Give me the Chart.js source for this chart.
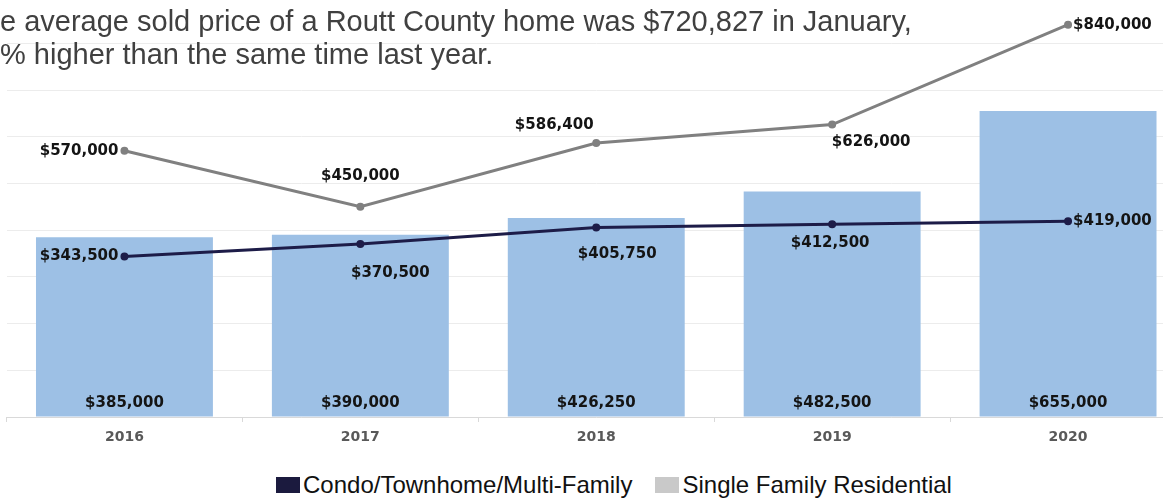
<!DOCTYPE html>
<html>
<head>
<meta charset="utf-8">
<script src="https://cdn.jsdelivr.net/npm/chart.js@4.4.1/dist/chart.umd.min.js"></script>
<style>
  html, body { margin: 0; padding: 0; background: #ffffff; }
  body { width: 1163px; height: 498px; overflow: hidden; position: relative; }
  #title { position: absolute; left: 0; top: 5px; font-family: "Liberation Sans", Arial, sans-serif;
           font-size: 29px; line-height: 33px; color: #404040; white-space: nowrap; z-index: 2; }
  #wrap { position: absolute; left: 0; top: -20px; width: 1200px; height: 477px; }
  #legend { position: absolute; left: 276px; top: 472px; height: 26px; display: flex; align-items: center;
            font-family: "Liberation Sans", Arial, sans-serif; font-size: 24px; color: #111; white-space: nowrap; }
  .item { display: flex; align-items: center; margin-right: 23px; }
  .box { width: 24px; height: 16px; margin-right: 3px; }
</style>
</head>
<body>
<div id="title"><div>e average sold price of a Routt County home was $720,827 in January,</div><div>% higher than the same time last year.</div></div>
<div id="wrap"><canvas id="c"></canvas></div>
<div id="legend"></div>
<script>
// ---- data ----
const categories = ['2016', '2017', '2018', '2019', '2020'];
const overallValues = [385000, 390000, 426250, 482500, 655000];
const condoValues = [343500, 370500, 405750, 412500, 419000];
const singleFamilyValues = [570000, 450000, 586400, 626000, 840000];
const seriesNames = ['Condo/Townhome/Multi-Family', 'Single Family Residential'];

// ---- label placement (style) ----
const condoLabelPos = [['left', -6, 0], ['center', 30, 29], ['center', 21, 27], ['center', -2, 19], ['right', 5, 0]];
const singleLabelPos = [['left', -6, 0], ['center', 0, -31], ['center', -42, -18], ['center', 39, 18], ['right', 5, 0]];

const fmt = v => '$' + v.toLocaleString('en-US');
const LABEL_FONT = 'bold 15px "DejaVu Sans", sans-serif';

const labelPlugin = {
  id: 'valueLabels',
  afterDatasetsDraw(chart) {
    const ctx = chart.ctx;
    ctx.save();
    ctx.font = LABEL_FONT;
    ctx.textBaseline = 'middle';
    ctx.fillStyle = '#141414';
    chart.data.datasets.forEach((ds, di) => {
      const meta = chart.getDatasetMeta(di);
      meta.data.forEach((el, i) => {
        const txt = fmt(ds.data[i]);
        if (ds.type === 'bar') {
          ctx.textAlign = 'center';
          ctx.fillText(txt, el.x, el.base - 13);
        } else {
          const p = ds.labelPos[i];
          ctx.textAlign = p[0] === 'left' ? 'right' : (p[0] === 'right' ? 'left' : 'center');
          ctx.fillText(txt, el.x + p[1], el.y + p[2]);
        }
      });
    });
    ctx.restore();
  }
};

const chart = new Chart(document.getElementById('c'), {
  data: {
    labels: categories,
    datasets: [
      { type: 'line', label: seriesNames[0], data: condoValues, borderColor: '#1d1c48', backgroundColor: '#1d1c48',
        legendColor: '#1b1a3e', borderWidth: 3, pointRadius: 2.5, pointHoverRadius: 2.5, tension: 0, order: 1, labelPos: condoLabelPos },
      { type: 'line', label: seriesNames[1], data: singleFamilyValues, borderColor: '#808080', backgroundColor: '#808080',
        legendColor: '#c9c9c9', borderWidth: 3, pointRadius: 2.5, pointHoverRadius: 2.5, tension: 0, order: 2, labelPos: singleLabelPos },
      { type: 'bar', label: 'All Residential', data: overallValues, backgroundColor: '#9dc0e5',
        barPercentage: 0.75, categoryPercentage: 1, order: 3, hideInLegend: true }
    ]
  },
  options: {
    responsive: true,
    maintainAspectRatio: false,
    animation: false,
    events: [],
    layout: { autoPadding: false, padding: { left: 6.5, right: 14, top: 16.6, bottom: 0 } },
    plugins: { legend: { display: false }, tooltip: { enabled: false } },
    scales: {
      x: {
        offset: true,
        grid: { offset: true, drawOnChartArea: false, drawTicks: true, tickLength: 5, color: '#d9d9d9' },
        border: { color: '#d9d9d9', width: 1 },
        ticks: { padding: 7, color: '#595959', font: { family: '"DejaVu Sans", sans-serif', size: 14, weight: 'bold' } },
        afterFit: s => { s.height = 40; }
      },
      y: {
        min: 0, max: 900000,
        ticks: { display: false, stepSize: 100000 },
        grid: { color: '#ececec', drawTicks: false },
        border: { display: false },
        afterFit: s => { s.width = 0; }
      }
    }
  },
  plugins: [labelPlugin]
});

// legend built from the chart's datasets
const legend = document.getElementById('legend');
chart.data.datasets.filter(d => !d.hideInLegend).forEach(d => {
  const it = document.createElement('div'); it.className = 'item';
  const b = document.createElement('div'); b.className = 'box'; b.style.background = d.legendColor;
  const t = document.createElement('span'); t.textContent = d.label;
  it.appendChild(b); it.appendChild(t); legend.appendChild(it);
});
</script>
</body>
</html>
